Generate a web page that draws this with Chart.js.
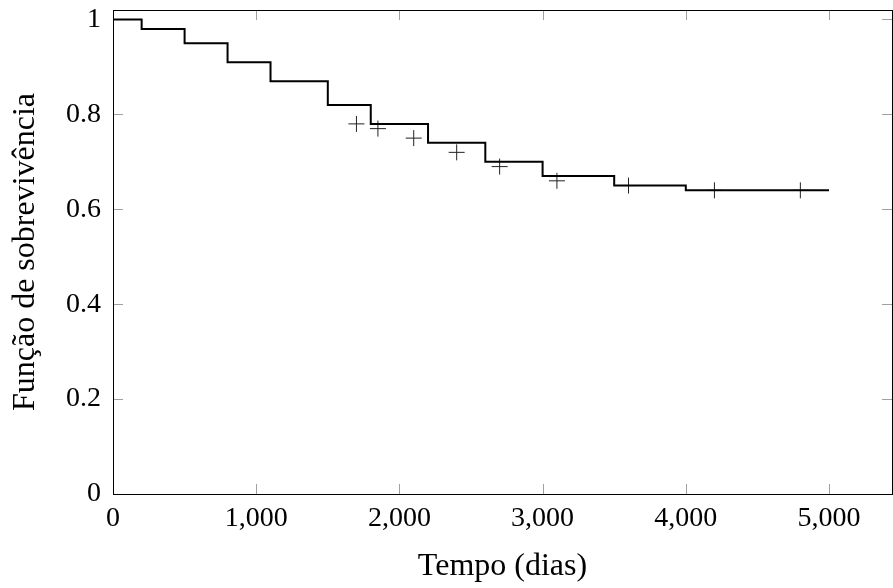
<!DOCTYPE html>
<html>
<head>
<meta charset="utf-8">
<script src="https://cdn.jsdelivr.net/npm/chart.js@4.4.1/dist/chart.umd.min.js"></script>
<style>
  html, body { margin: 0; padding: 0; background: #fff; }
</style>
</head>
<body>
<canvas id="chart" width="893" height="588"></canvas>
<script>
// Kaplan-Meier curve (step points) and censored observations
const stepDays = [0, 200, 500, 800, 1100, 1500, 1800, 2200, 2600, 3000, 3500, 4000, 5000];
const survival = [1, 0.98, 0.95, 0.91, 0.87, 0.82, 0.78, 0.74, 0.70, 0.67, 0.65, 0.64, 0.64];
const censorDays = [1700, 1850, 2100, 2400, 2700, 3100, 3600, 4200, 4800];
const censorSurv = [0.78, 0.77, 0.75, 0.72, 0.69, 0.66, 0.65, 0.64, 0.64];
const xTicks = [0, 1000, 2000, 3000, 4000, 5000];
const yTicks = [0, 0.2, 0.4, 0.6, 0.8, 1];

const serif = "'Liberation Serif', 'DejaVu Serif', serif";

// inward tick marks on all four sides + axis box, like pgfplots
const frameTicks = {
  id: 'frameTicks',
  beforeDatasetsDraw(chart) {
    const { ctx, chartArea: a, scales: { x, y } } = chart;
    const len = 10;
    ctx.save();
    ctx.strokeStyle = '#a0a0a0';
    ctx.lineWidth = 1;
    ctx.beginPath();
    xTicks.forEach(v => {
      const px = Math.round(x.getPixelForValue(v)) + 0.5;
      ctx.moveTo(px, a.bottom); ctx.lineTo(px, a.bottom - len);
      ctx.moveTo(px, a.top); ctx.lineTo(px, a.top + len);
    });
    yTicks.forEach(v => {
      const py = Math.round(y.getPixelForValue(v)) + 0.5;
      ctx.moveTo(a.left, py); ctx.lineTo(a.left + len, py);
      ctx.moveTo(a.right, py); ctx.lineTo(a.right - len, py);
    });
    ctx.stroke();
    ctx.restore();
  },
  afterDatasetsDraw(chart) {
    const { ctx, chartArea: a } = chart;
    ctx.save();
    ctx.strokeStyle = '#000';
    ctx.lineWidth = 1;
    ctx.strokeRect(Math.round(a.left) + 0.5, Math.round(a.top) + 0.5,
      Math.round(a.right - a.left), Math.round(a.bottom - a.top));
    ctx.restore();
  }
};

const ctx = document.getElementById('chart').getContext('2d');
new Chart(ctx, {
  type: 'scatter',
  data: {
    datasets: [{
      label: 'Kaplan-Meier',
      data: stepDays.map((d, i) => ({ x: d, y: survival[i] })),
      showLine: true,
      stepped: 'before',
      borderColor: '#000',
      borderWidth: 2,
      pointRadius: 0,
      fill: false
    }, {
      label: 'Censurados',
      data: censorDays.map((d, i) => ({ x: d, y: censorSurv[i] })),
      showLine: false,
      pointStyle: 'cross',
      pointRadius: 8,
      pointBorderWidth: 1,
      pointBorderColor: '#222',
      pointBackgroundColor: '#222'
    }]
  },
  options: {
    responsive: false,
    animation: false,
    devicePixelRatio: 1,
    layout: { autoPadding: false, padding: { top: 10, right: 1, left: 0, bottom: 0 } },
    plugins: { legend: { display: false }, tooltip: { enabled: false } },
    scales: {
      x: {
        type: 'linear',
        min: 0,
        max: 5440,
        afterFit: s => { s.height = 94; s.paddingLeft = 0; s.paddingRight = 0; },
        afterBuildTicks: s => { s.ticks = xTicks.map(v => ({ value: v })); },
        grid: { display: false, drawTicks: false },
        border: { display: false },
        ticks: {
          padding: 8,
          maxRotation: 0,
          color: '#000',
          font: { family: serif, size: 28 },
          callback: v => v.toLocaleString('en-US')
        },
        title: {
          display: true,
          text: 'Tempo (dias)',
          color: '#000',
          font: { family: serif, size: 32 },
          padding: { top: 0, bottom: 2 }
        }
      },
      y: {
        type: 'linear',
        min: 0,
        max: 1.02,
        afterFit: s => { s.width = 113; s.paddingTop = 0; s.paddingBottom = 0; },
        afterBuildTicks: s => { s.ticks = yTicks.map(v => ({ value: v })); },
        grid: { display: false, drawTicks: false },
        border: { display: false },
        ticks: {
          padding: 12,
          color: '#000',
          font: { family: serif, size: 28 },
          callback: v => String(v)
        },
        title: {
          display: true,
          text: 'Função de sobrevivência',
          color: '#000',
          font: { family: serif, size: 32 },
          padding: { top: 6, bottom: 0 }
        }
      }
    }
  },
  plugins: [frameTicks]
});
</script>
</body>
</html>
